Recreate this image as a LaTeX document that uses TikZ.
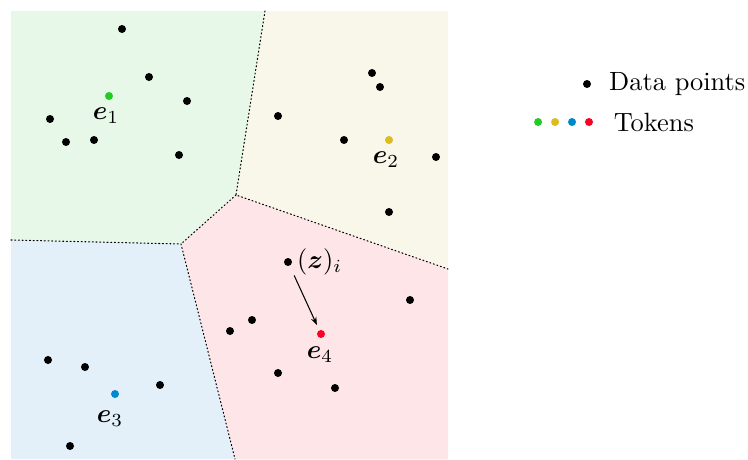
\documentclass[tikz,border=0pt]{standalone}
\usepackage{amsmath,amssymb,bm}
\usetikzlibrary{arrows.meta,positioning}

\definecolor{regA}{HTML}{E8F8E8}
\definecolor{regB}{HTML}{F8F7EA}
\definecolor{regC}{HTML}{E3F0F9}
\definecolor{regD}{HTML}{FEE5E8}
\definecolor{tokA}{HTML}{22CC22}
\definecolor{tokB}{HTML}{DDBB22}
\definecolor{tokC}{HTML}{0088CC}
\definecolor{tokD}{HTML}{FF0022}

\tikzset{
  datapt/.style={circle, fill=black, inner sep=0pt, minimum size=8*0.379pt},
  tokpt/.style={circle, fill=#1, inner sep=0pt, minimum size=8*0.379pt},
  cellwall/.style={densely dotted, line width=0.4pt},
}

\begin{document}
\begin{tikzpicture}[x=0.379pt,y=-0.379pt,line cap=round,line join=round]
  \useasboundingbox (0,0) rectangle (748,459);

  % Cell corners of the tessellation
  \coordinate (vtop) at (265,11);
  \coordinate (vmid) at (236,195);
  \coordinate (vright) at (448,269);
  \coordinate (vleft) at (11,240);
  \coordinate (vlow) at (181,244);
  \coordinate (vbot) at (235,459);

  % Filled cells
  \fill[regA] (11,11) -- (vtop) -- (vmid) -- (vlow) -- (vleft) -- cycle;
  \fill[regB] (vtop) -- (448,11) -- (vright) -- (vmid) -- cycle;
  \fill[regD] (vmid) -- (vright) -- (448,459) -- (vbot) -- (vlow) -- cycle;
  \fill[regC] (vleft) -- (vlow) -- (vbot) -- (11,459) -- cycle;

  % Cell walls
  \draw[cellwall] (vtop) -- (vmid) -- (vright);
  \draw[cellwall] (vmid) -- (vlow);
  \draw[cellwall] (vleft) -- (vlow) -- (vbot);

  % Data points
  \foreach \x/\y [count=\k] in {122/29, 149/77, 187/101, 50/119, 66/142, 94/140, 179/155,
      372/73, 380/87, 278/116, 344/140, 436/157, 389/212,
      410/300, 252/320, 230/331, 278/373, 335/388,
      48/360, 85/367, 160/385, 70/446}{
    \node[datapt] (d\k) at (\x,\y) {};
  }
  \node[datapt] (zi) at (288,262) {};

  % Tokens
  \node[tokpt=tokA] (tok1) at (109,96) {};
  \node[tokpt=tokB] (tok2) at (389,140) {};
  \node[tokpt=tokC] (tok3) at (115,394) {};
  \node[tokpt=tokD] (tok4) at (321,334) {};

  % Token labels
  \node (lab1) at (106,116) {$\bm{e}_1$};
  \node (lab2) at (386,160) {$\bm{e}_2$};
  \node (lab3) at (110,419) {$\bm{e}_3$};
  \node (lab4) at (320,355) {$\bm{e}_4$};
  \node[right=0.5pt of zi, inner sep=1pt] (labz) {$(\bm{z})_i$};

  % Assignment of the point to its token
  \draw[-{Stealth[length=3pt,width=2.2pt]}, line width=0.4pt,
        shorten <=4pt, shorten >=2pt] (zi) -- (tok4);

  % Legend
  \node[datapt] (legd) at (587,84) {};
  \node[right=6.5pt of legd, inner sep=0pt] (legdtxt) {Data points};
  \node[tokpt=tokD] (legt4) at (589,122) {};
  \node[tokpt=tokC, left=3pt of legt4] (legt3) {};
  \node[tokpt=tokB, left=3pt of legt3] (legt2) {};
  \node[tokpt=tokA, left=3pt of legt2] (legt1) {};
  \node[right=7.5pt of legt4, inner sep=0pt] (legttxt) {Tokens};
\end{tikzpicture}
\end{document}
